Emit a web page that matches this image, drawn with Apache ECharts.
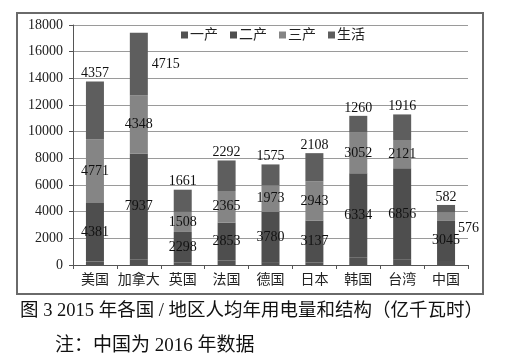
<!DOCTYPE html>
<html><head><meta charset="utf-8">
<script src="https://cdn.jsdelivr.net/npm/echarts@6/dist/echarts.min.js"></script>
<style>html,body{margin:0;padding:0;background:#fff;}#c{width:514px;height:361px;}</style>
</head><body><div id="c"></div>
<script>
const categories = ['美国','加拿大','英国','法国','德国','日本','韩国','台湾','中国'];
const primary   = [260, 420, 180, 330, 215, 200, 540, 400, 300];
const secondary = [4381, 7937, 2298, 2853, 3780, 3137, 6334, 6856, 3045];
const tertiary  = [4771, 4348, 1508, 2365, 1973, 2943, 3052, 2121, 576];
const household = [4357, 4715, 1661, 2292, 1575, 2108, 1260, 1916, 582];
const yTicks = [0, 2000, 4000, 6000, 8000, 10000, 12000, 14000, 16000, 18000];
const seriesNames = ['一产','二产','三产','生活'];

const FONT = '"Liberation Serif","Noto Sans CJK SC",serif';
const chart = echarts.init(document.getElementById('c'), null, {renderer:'canvas'});
const lbl = {show:true, fontFamily:FONT, fontSize:14, color:'#111'};

const terData = tertiary.map((v,i)=> i===8 ? {value:v, label:{position:'right', offset:[-2,12]}} : v);
const houseData = household.map((v,i)=> i===1 ? {value:v, label:{position:'right', distance:4}} : {value:v, label:{position:'top', distance:1}});

chart.setOption({
  animation:false,
  backgroundColor:'#fff',
  textStyle:{fontFamily:FONT},
  grid:{left:73, right:46, top:25, bottom:96},
  legend:{
    data:seriesNames, top:23, left:176, itemWidth:7, itemHeight:7, itemGap:12,
    icon:'rect',
    textStyle:{fontFamily:FONT, fontSize:14, color:'#222', padding:[0,0,0,-3]}
  },
  xAxis:{
    type:'category', data:categories,
    axisLine:{lineStyle:{color:'#555', width:1}},
    axisTick:{show:true, length:4, lineStyle:{color:'#555'}},
    axisLabel:{fontFamily:FONT, fontSize:14, color:'#222', margin:8, interval:0}
  },
  yAxis:{
    type:'value', min:0, max:18000, interval:2000,
    axisLine:{show:true, lineStyle:{color:'#555'}},
    axisTick:{show:true, length:4, lineStyle:{color:'#555'}},
    axisLabel:{fontFamily:FONT, fontSize:14, color:'#222', margin:10,
      formatter:(v)=> yTicks.includes(v) ? String(v) : ''},
    splitLine:{lineStyle:{color:'#9a9a9a', width:1}}
  },
  series:[
    {name:'一产', type:'bar', stack:'s', barWidth:18, data:primary, itemStyle:{color:'#525252'}},
    {name:'二产', type:'bar', stack:'s', data:secondary, itemStyle:{color:'#4e4e4e'},
      label:Object.assign({}, lbl, {position:'inside'})},
    {name:'三产', type:'bar', stack:'s', data:terData, itemStyle:{color:'#858585'},
      label:Object.assign({}, lbl, {position:'inside'})},
    {name:'生活', type:'bar', stack:'s', data:houseData, itemStyle:{color:'#5e5e5e'},
      label:Object.assign({}, lbl)}
  ],
  graphic:[
    {type:'rect', shape:{x:17, y:13, width:466, height:281}, style:{fill:'none', stroke:'#6a6a6a', lineWidth:2}, z:-1},
    {type:'text', left:20, top:302, style:{text:'图 3 2015 年各国 / 地区人均年用电量和结构（亿千瓦时）', fontFamily:FONT, fontSize:18.5, fill:'#111'}},
    {type:'text', left:55, top:337, style:{text:'注：中国为 2016 年数据', fontFamily:FONT, fontSize:19, fill:'#111'}}
  ]
});
</script></body></html>
